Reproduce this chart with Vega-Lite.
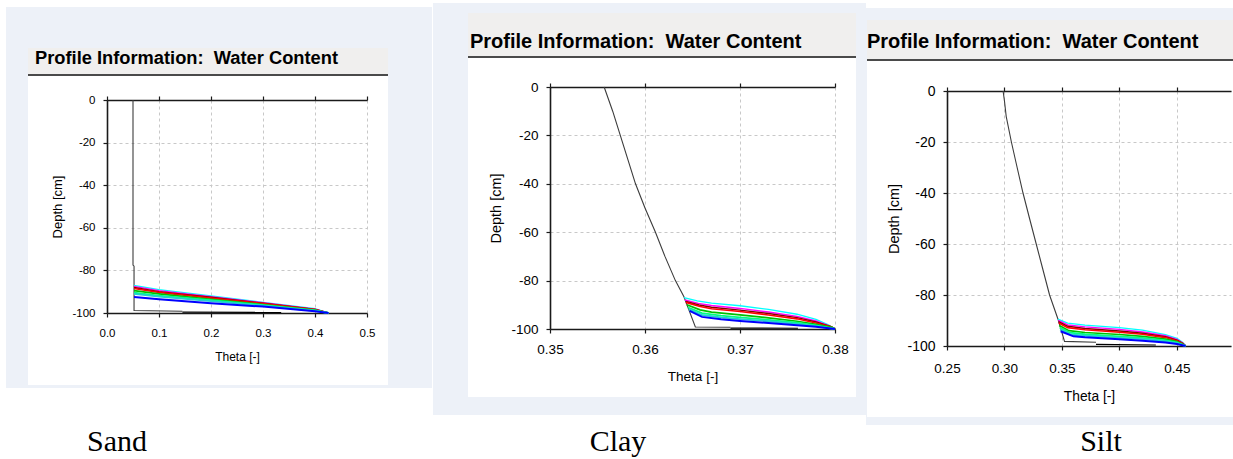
{
  "$schema": "https://vega.github.io/schema/vega-lite/v6.json",
  "background": "white",
  "padding": {"left": 6, "top": 3, "right": 0, "bottom": 0},
  "spacing": 0,
  "datasets": {
    "none": [],
    "sand": [
      {"series": "init", "theta": 0.05, "depth": 0},
      {"series": "init", "theta": 0.05, "depth": -77.5},
      {"series": "init", "theta": 0.052, "depth": -78},
      {"series": "init", "theta": 0.052, "depth": -98.8},
      {"series": "init", "theta": 0.145, "depth": -99.2},
      {"series": "t1", "theta": 0.145, "depth": -99.6},
      {"series": "t1", "theta": 0.335, "depth": -99.7},
      {"series": "c1", "theta": 0.052, "depth": -87},
      {"series": "c1", "theta": 0.1, "depth": -89},
      {"series": "c1", "theta": 0.2, "depth": -92},
      {"series": "c1", "theta": 0.3, "depth": -95},
      {"series": "c1", "theta": 0.4, "depth": -98},
      {"series": "c1", "theta": 0.426, "depth": -100},
      {"series": "c2", "theta": 0.052, "depth": -87.5},
      {"series": "c2", "theta": 0.1, "depth": -89.5},
      {"series": "c2", "theta": 0.2, "depth": -92.3},
      {"series": "c2", "theta": 0.3, "depth": -95.2},
      {"series": "c2", "theta": 0.4, "depth": -98.2},
      {"series": "c2", "theta": 0.426, "depth": -100},
      {"series": "c3", "theta": 0.052, "depth": -88},
      {"series": "c3", "theta": 0.1, "depth": -90},
      {"series": "c3", "theta": 0.2, "depth": -92.6},
      {"series": "c3", "theta": 0.3, "depth": -95.4},
      {"series": "c3", "theta": 0.4, "depth": -98.3},
      {"series": "c3", "theta": 0.426, "depth": -100},
      {"series": "c4", "theta": 0.052, "depth": -88.5},
      {"series": "c4", "theta": 0.1, "depth": -90.3},
      {"series": "c4", "theta": 0.2, "depth": -93},
      {"series": "c4", "theta": 0.3, "depth": -95.6},
      {"series": "c4", "theta": 0.4, "depth": -98.4},
      {"series": "c4", "theta": 0.426, "depth": -100},
      {"series": "c5", "theta": 0.052, "depth": -89.5},
      {"series": "c5", "theta": 0.1, "depth": -91},
      {"series": "c5", "theta": 0.2, "depth": -93.6},
      {"series": "c5", "theta": 0.3, "depth": -96},
      {"series": "c5", "theta": 0.4, "depth": -98.6},
      {"series": "c5", "theta": 0.426, "depth": -100},
      {"series": "c6", "theta": 0.052, "depth": -90.5},
      {"series": "c6", "theta": 0.1, "depth": -91.8},
      {"series": "c6", "theta": 0.2, "depth": -94},
      {"series": "c6", "theta": 0.3, "depth": -96.3},
      {"series": "c6", "theta": 0.4, "depth": -98.8},
      {"series": "c6", "theta": 0.426, "depth": -100},
      {"series": "c7", "theta": 0.052, "depth": -91},
      {"series": "c7", "theta": 0.1, "depth": -92.3},
      {"series": "c7", "theta": 0.2, "depth": -94.4},
      {"series": "c7", "theta": 0.3, "depth": -96.6},
      {"series": "c7", "theta": 0.4, "depth": -99},
      {"series": "c7", "theta": 0.426, "depth": -100},
      {"series": "c8", "theta": 0.052, "depth": -92.5},
      {"series": "c8", "theta": 0.1, "depth": -93.5},
      {"series": "c8", "theta": 0.2, "depth": -95.4},
      {"series": "c8", "theta": 0.3, "depth": -97},
      {"series": "c8", "theta": 0.4, "depth": -99.2},
      {"series": "c8", "theta": 0.426, "depth": -100}
    ],
    "clay": [
      {"series": "init", "theta": 0.3557, "depth": 0},
      {"series": "init", "theta": 0.3566, "depth": -10},
      {"series": "init", "theta": 0.3574, "depth": -20},
      {"series": "init", "theta": 0.3582, "depth": -30},
      {"series": "init", "theta": 0.359, "depth": -40},
      {"series": "init", "theta": 0.36, "depth": -50},
      {"series": "init", "theta": 0.3611, "depth": -60},
      {"series": "init", "theta": 0.3621, "depth": -70},
      {"series": "init", "theta": 0.3632, "depth": -80},
      {"series": "init", "theta": 0.3641, "depth": -86.7},
      {"series": "init", "theta": 0.3653, "depth": -99.2},
      {"series": "init", "theta": 0.369, "depth": -99.3},
      {"series": "t1", "theta": 0.369, "depth": -99.6},
      {"series": "t1", "theta": 0.3761, "depth": -99.7},
      {"series": "c1", "theta": 0.3641, "depth": -87},
      {"series": "c1", "theta": 0.3655, "depth": -88.4},
      {"series": "c1", "theta": 0.367, "depth": -89.3},
      {"series": "c1", "theta": 0.37, "depth": -90.4},
      {"series": "c1", "theta": 0.373, "depth": -91.9},
      {"series": "c1", "theta": 0.376, "depth": -93.9},
      {"series": "c1", "theta": 0.378, "depth": -96},
      {"series": "c1", "theta": 0.3793, "depth": -98.3},
      {"series": "c1", "theta": 0.38, "depth": -100},
      {"series": "c2", "theta": 0.3642, "depth": -88},
      {"series": "c2", "theta": 0.3656, "depth": -89.4},
      {"series": "c2", "theta": 0.367, "depth": -90.3},
      {"series": "c2", "theta": 0.37, "depth": -91.5},
      {"series": "c2", "theta": 0.373, "depth": -93},
      {"series": "c2", "theta": 0.376, "depth": -94.8},
      {"series": "c2", "theta": 0.378, "depth": -96.7},
      {"series": "c2", "theta": 0.3794, "depth": -98.7},
      {"series": "c2", "theta": 0.38, "depth": -100},
      {"series": "c3", "theta": 0.3643, "depth": -88.6},
      {"series": "c3", "theta": 0.3657, "depth": -90.1},
      {"series": "c3", "theta": 0.367, "depth": -91},
      {"series": "c3", "theta": 0.37, "depth": -92.2},
      {"series": "c3", "theta": 0.373, "depth": -93.6},
      {"series": "c3", "theta": 0.376, "depth": -95.3},
      {"series": "c3", "theta": 0.378, "depth": -97.1},
      {"series": "c3", "theta": 0.3795, "depth": -98.9},
      {"series": "c3", "theta": 0.38, "depth": -100},
      {"series": "c4", "theta": 0.3643, "depth": -89},
      {"series": "c4", "theta": 0.3658, "depth": -90.7},
      {"series": "c4", "theta": 0.367, "depth": -91.6},
      {"series": "c4", "theta": 0.37, "depth": -92.8},
      {"series": "c4", "theta": 0.373, "depth": -94.2},
      {"series": "c4", "theta": 0.376, "depth": -95.8},
      {"series": "c4", "theta": 0.378, "depth": -97.5},
      {"series": "c4", "theta": 0.3796, "depth": -99.1},
      {"series": "c4", "theta": 0.38, "depth": -100},
      {"series": "c5", "theta": 0.3644, "depth": -90},
      {"series": "c5", "theta": 0.3658, "depth": -92.1},
      {"series": "c5", "theta": 0.367, "depth": -93},
      {"series": "c5", "theta": 0.37, "depth": -94.2},
      {"series": "c5", "theta": 0.373, "depth": -95.4},
      {"series": "c5", "theta": 0.376, "depth": -96.8},
      {"series": "c5", "theta": 0.378, "depth": -98.1},
      {"series": "c5", "theta": 0.3797, "depth": -99.3},
      {"series": "c5", "theta": 0.38, "depth": -100},
      {"series": "c6", "theta": 0.3645, "depth": -91},
      {"series": "c6", "theta": 0.366, "depth": -93.4},
      {"series": "c6", "theta": 0.368, "depth": -94.5},
      {"series": "c6", "theta": 0.37, "depth": -95.2},
      {"series": "c6", "theta": 0.373, "depth": -96.2},
      {"series": "c6", "theta": 0.376, "depth": -97.4},
      {"series": "c6", "theta": 0.378, "depth": -98.5},
      {"series": "c6", "theta": 0.38, "depth": -100},
      {"series": "c7", "theta": 0.3646, "depth": -91.8},
      {"series": "c7", "theta": 0.366, "depth": -94.2},
      {"series": "c7", "theta": 0.368, "depth": -95.2},
      {"series": "c7", "theta": 0.37, "depth": -95.9},
      {"series": "c7", "theta": 0.373, "depth": -96.8},
      {"series": "c7", "theta": 0.376, "depth": -97.9},
      {"series": "c7", "theta": 0.378, "depth": -98.8},
      {"series": "c7", "theta": 0.38, "depth": -100},
      {"series": "c8", "theta": 0.3647, "depth": -92.5},
      {"series": "c8", "theta": 0.366, "depth": -95},
      {"series": "c8", "theta": 0.368, "depth": -96},
      {"series": "c8", "theta": 0.37, "depth": -96.7},
      {"series": "c8", "theta": 0.373, "depth": -97.5},
      {"series": "c8", "theta": 0.376, "depth": -98.4},
      {"series": "c8", "theta": 0.378, "depth": -99.1},
      {"series": "c8", "theta": 0.38, "depth": -100}
    ],
    "silt": [
      {"series": "init", "theta": 0.2988, "depth": 0},
      {"series": "init", "theta": 0.3, "depth": -4},
      {"series": "init", "theta": 0.3015, "depth": -10},
      {"series": "init", "theta": 0.306, "depth": -20},
      {"series": "init", "theta": 0.311, "depth": -30},
      {"series": "init", "theta": 0.3161, "depth": -40},
      {"series": "init", "theta": 0.3218, "depth": -50},
      {"series": "init", "theta": 0.3276, "depth": -60},
      {"series": "init", "theta": 0.3334, "depth": -70},
      {"series": "init", "theta": 0.3392, "depth": -80},
      {"series": "init", "theta": 0.3464, "depth": -89.3},
      {"series": "init", "theta": 0.3522, "depth": -98.2},
      {"series": "init", "theta": 0.3796, "depth": -98.5},
      {"series": "t1", "theta": 0.3796, "depth": -99.4},
      {"series": "t1", "theta": 0.4316, "depth": -99.6},
      {"series": "c1", "theta": 0.3464, "depth": -89.5},
      {"series": "c1", "theta": 0.355, "depth": -91},
      {"series": "c1", "theta": 0.37, "depth": -91.8},
      {"series": "c1", "theta": 0.4, "depth": -92.8},
      {"series": "c1", "theta": 0.42, "depth": -93.8},
      {"series": "c1", "theta": 0.44, "depth": -95.5},
      {"series": "c1", "theta": 0.45, "depth": -97},
      {"series": "c1", "theta": 0.455, "depth": -98.6},
      {"series": "c1", "theta": 0.4575, "depth": -100},
      {"series": "c2", "theta": 0.3468, "depth": -90},
      {"series": "c2", "theta": 0.355, "depth": -91.7},
      {"series": "c2", "theta": 0.37, "depth": -92.5},
      {"series": "c2", "theta": 0.4, "depth": -93.5},
      {"series": "c2", "theta": 0.42, "depth": -94.5},
      {"series": "c2", "theta": 0.44, "depth": -96},
      {"series": "c2", "theta": 0.45, "depth": -97.4},
      {"series": "c2", "theta": 0.455, "depth": -98.8},
      {"series": "c2", "theta": 0.4575, "depth": -100},
      {"series": "c3", "theta": 0.347, "depth": -90.5},
      {"series": "c3", "theta": 0.355, "depth": -92.3},
      {"series": "c3", "theta": 0.37, "depth": -93.1},
      {"series": "c3", "theta": 0.4, "depth": -94.1},
      {"series": "c3", "theta": 0.42, "depth": -95},
      {"series": "c3", "theta": 0.44, "depth": -96.4},
      {"series": "c3", "theta": 0.45, "depth": -97.7},
      {"series": "c3", "theta": 0.455, "depth": -99},
      {"series": "c3", "theta": 0.4575, "depth": -100},
      {"series": "c4", "theta": 0.3472, "depth": -91},
      {"series": "c4", "theta": 0.355, "depth": -92.8},
      {"series": "c4", "theta": 0.37, "depth": -93.6},
      {"series": "c4", "theta": 0.4, "depth": -94.6},
      {"series": "c4", "theta": 0.42, "depth": -95.4},
      {"series": "c4", "theta": 0.44, "depth": -96.7},
      {"series": "c4", "theta": 0.45, "depth": -97.9},
      {"series": "c4", "theta": 0.455, "depth": -99.1},
      {"series": "c4", "theta": 0.4575, "depth": -100},
      {"series": "c5", "theta": 0.3476, "depth": -92},
      {"series": "c5", "theta": 0.356, "depth": -94},
      {"series": "c5", "theta": 0.37, "depth": -94.7},
      {"series": "c5", "theta": 0.4, "depth": -95.5},
      {"series": "c5", "theta": 0.42, "depth": -96.2},
      {"series": "c5", "theta": 0.44, "depth": -97.3},
      {"series": "c5", "theta": 0.45, "depth": -98.3},
      {"series": "c5", "theta": 0.455, "depth": -99.3},
      {"series": "c5", "theta": 0.4575, "depth": -100},
      {"series": "c6", "theta": 0.348, "depth": -92.8},
      {"series": "c6", "theta": 0.357, "depth": -94.8},
      {"series": "c6", "theta": 0.37, "depth": -95.4},
      {"series": "c6", "theta": 0.4, "depth": -96.2},
      {"series": "c6", "theta": 0.42, "depth": -96.8},
      {"series": "c6", "theta": 0.44, "depth": -97.8},
      {"series": "c6", "theta": 0.45, "depth": -98.6},
      {"series": "c6", "theta": 0.4575, "depth": -100},
      {"series": "c7", "theta": 0.3484, "depth": -93.5},
      {"series": "c7", "theta": 0.358, "depth": -95.5},
      {"series": "c7", "theta": 0.37, "depth": -96},
      {"series": "c7", "theta": 0.4, "depth": -96.8},
      {"series": "c7", "theta": 0.42, "depth": -97.3},
      {"series": "c7", "theta": 0.44, "depth": -98.2},
      {"series": "c7", "theta": 0.45, "depth": -98.9},
      {"series": "c7", "theta": 0.4575, "depth": -100},
      {"series": "c8", "theta": 0.3488, "depth": -94.2},
      {"series": "c8", "theta": 0.36, "depth": -96.2},
      {"series": "c8", "theta": 0.37, "depth": -96.6},
      {"series": "c8", "theta": 0.4, "depth": -97.4},
      {"series": "c8", "theta": 0.42, "depth": -97.9},
      {"series": "c8", "theta": 0.44, "depth": -98.6},
      {"series": "c8", "theta": 0.45, "depth": -99.2},
      {"series": "c8", "theta": 0.4575, "depth": -100}
    ]
  },
  "vconcat": [
    {
      "spacing": 0,
      "hconcat": [
        {
          "spacing": 0,
          "vconcat": [
            {"width": 1, "height": 4, "data": {"name": "none"}, "mark": "point"},
            {"width": 426, "height": 41, "data": {"name": "none"}, "mark": "point", "view": {"fill": "#edf1f8"}},
            {
              "spacing": 0,
              "hconcat": [
                {"width": 22, "height": 337, "data": {"name": "none"}, "mark": "point", "view": {"fill": "#edf1f8"}},
                {
                  "columns": 2, "spacing": 0, "bounds": "flush", "align": "each",
                  "concat": [
                    {"width": 79, "height": 26, "data": {"name": "none"}, "mark": "point", "view": {"fill": "#f0efee"}},
                    {"width": 281, "height": 26, "data": {"name": "none"}, "mark": "point", "view": {"fill": "#f0efee"}},
                    {"width": 79, "height": 2, "data": {"name": "none"}, "mark": "point", "view": {"fill": "#4a4a4a"}},
                    {"width": 281, "height": 2, "data": {"name": "none"}, "mark": "point", "view": {"fill": "#4a4a4a"}},
                    {"width": 1, "height": 24, "data": {"name": "none"}, "mark": "point"},
                    {"width": 1, "height": 24, "data": {"name": "none"}, "mark": "point"},
                    {"width": 1, "height": 1, "data": {"name": "none"}, "mark": "point"},
                    {
                      "width": 260, "height": 213,
                      "title": {"text": "Profile Information:\u00a0\u00a0Water Content", "frame": "group", "anchor": "start", "dx": -72, "offset": 26, "fontSize": 18.3, "fontWeight": "bold", "font": "Liberation Sans", "color": "#000000"},
                      "resolve": {"axis": {"x": "independent"}},
                      "layer": [
                        {
                          "data": {"name": "sand"},
                          "mark": {"type": "line"},
                          "encoding": {
                            "x": {"field": "theta", "type": "quantitative", "scale": {"domain": [0, 0.5], "nice": false, "zero": false},
                              "axis": {"values": [0, 0.1, 0.2, 0.3, 0.4, 0.5], "format": ".1f", "labelFontSize": 11.5, "labelPadding": 10, "title": "Theta [-]", "titleFontSize": 12, "titleY": 47, "titleBaseline": "alphabetic"}},
                            "y": {"field": "depth", "type": "quantitative", "scale": {"domain": [-100, 0], "nice": false, "zero": false},
                              "axis": {"values": [0, -20, -40, -60, -80, -100], "format": "d", "labelExpr": "replace(datum.label, '\u2212', '-')", "labelFontSize": 11.5, "labelPadding": 8, "title": "Depth [cm]", "titleFontSize": 13, "titleX": -49.5, "titleBaseline": "middle"}},
                            "color": {"field": "series", "type": "nominal", "legend": null,
                              "scale": {"domain": ["init", "t1", "c1", "c2", "c3", "c4", "c5", "c6", "c7", "c8"], "range": ["#3c3c3c", "#000000", "#00ffff", "#ff00ff", "#800000", "#ff0000", "#00c000", "#00ff80", "#20d0d0", "#0000ff"]}},
                            "strokeWidth": {"field": "series", "type": "nominal", "legend": null,
                              "scale": {"domain": ["init", "t1", "c1", "c2", "c3", "c4", "c5", "c6", "c7", "c8"], "range": [1.1, 2, 1.6, 1.6, 1.6, 1.6, 1.6, 1.6, 1.6, 1.6]}},
                            "order": {"field": "depth", "sort": "descending"}
                          }
                        },
                        {
                          "data": {"name": "none"},
                          "mark": "point",
                          "encoding": {
                            "x": {"field": "theta", "type": "quantitative", "scale": {"domain": [0, 0.5], "nice": false, "zero": false},
                              "axis": {"orient": "top", "values": [0, 0.1, 0.2, 0.3, 0.4, 0.5], "labels": false, "grid": false, "title": null}}
                          }
                        }
                      ]
                    }
                  ]
                },
                {"width": 44, "height": 337, "data": {"name": "none"}, "mark": "point", "view": {"fill": "#edf1f8"}}
              ]
            },
            {"width": 426, "height": 3, "data": {"name": "none"}, "mark": "point", "view": {"fill": "#edf1f8"}}
          ]
        },
        {"width": 1, "height": 1, "data": {"name": "none"}, "mark": "point"},
        {
          "spacing": 0,
          "vconcat": [
            {"width": 433, "height": 10, "data": {"name": "none"}, "mark": "point", "view": {"fill": "#edf1f8"}},
            {
              "spacing": 0,
              "hconcat": [
                {"width": 35, "height": 384, "data": {"name": "none"}, "mark": "point", "view": {"fill": "#edf1f8"}},
                {
                  "columns": 2, "spacing": 0, "bounds": "flush", "align": "each",
                  "concat": [
                    {"width": 82, "height": 43, "data": {"name": "none"}, "mark": "point", "view": {"fill": "#f0efee"}},
                    {"width": 306, "height": 43, "data": {"name": "none"}, "mark": "point", "view": {"fill": "#f0efee"}},
                    {"width": 82, "height": 2, "data": {"name": "none"}, "mark": "point", "view": {"fill": "#4a4a4a"}},
                    {"width": 306, "height": 2, "data": {"name": "none"}, "mark": "point", "view": {"fill": "#4a4a4a"}},
                    {"width": 1, "height": 29, "data": {"name": "none"}, "mark": "point"},
                    {"width": 1, "height": 29, "data": {"name": "none"}, "mark": "point"},
                    {"width": 1, "height": 1, "data": {"name": "none"}, "mark": "point"},
                    {
                      "width": 285, "height": 242,
                      "title": {"text": "Profile Information:\u00a0\u00a0Water Content", "frame": "group", "anchor": "start", "dx": -80, "offset": 28, "fontSize": 20, "fontWeight": "bold", "font": "Liberation Sans", "color": "#000000"},
                      "resolve": {"axis": {"x": "independent"}},
                      "layer": [
                        {
                          "data": {"name": "clay"},
                          "mark": {"type": "line"},
                          "encoding": {
                            "x": {"field": "theta", "type": "quantitative", "scale": {"domain": [0.35, 0.38], "nice": false, "zero": false},
                              "axis": {"values": [0.35, 0.36, 0.37, 0.38], "format": ".2f", "labelFontSize": 13.5, "labelPadding": 9, "title": "Theta [-]", "titleFontSize": 13.5, "titleY": 51.5, "titleBaseline": "alphabetic"}},
                            "y": {"field": "depth", "type": "quantitative", "scale": {"domain": [-100, 0], "nice": false, "zero": false},
                              "axis": {"values": [0, -20, -40, -60, -80, -100], "format": "d", "labelExpr": "replace(datum.label, '\u2212', '-')", "labelFontSize": 13.5, "labelPadding": 8, "title": "Depth [cm]", "titleFontSize": 14.5, "titleX": -53.3, "titleBaseline": "middle"}},
                            "color": {"field": "series", "type": "nominal", "legend": null,
                              "scale": {"domain": ["init", "t1", "c1", "c2", "c3", "c4", "c5", "c6", "c7", "c8"], "range": ["#3c3c3c", "#000000", "#00ffff", "#ff00ff", "#800000", "#ff0000", "#00c000", "#00ff80", "#20d0d0", "#0000ff"]}},
                            "strokeWidth": {"field": "series", "type": "nominal", "legend": null,
                              "scale": {"domain": ["init", "t1", "c1", "c2", "c3", "c4", "c5", "c6", "c7", "c8"], "range": [1.1, 2, 1.6, 1.6, 1.6, 1.6, 1.6, 1.6, 1.6, 1.6]}},
                            "order": {"field": "depth", "sort": "descending"}
                          }
                        },
                        {
                          "data": {"name": "none"},
                          "mark": "point",
                          "encoding": {
                            "x": {"field": "theta", "type": "quantitative", "scale": {"domain": [0.35, 0.38], "nice": false, "zero": false},
                              "axis": {"orient": "top", "values": [0.35, 0.36, 0.37, 0.38], "labels": false, "grid": false, "title": null}}
                          }
                        }
                      ]
                    }
                  ]
                },
                {"width": 10, "height": 384, "data": {"name": "none"}, "mark": "point", "view": {"fill": "#edf1f8"}}
              ]
            },
            {"width": 433, "height": 18, "data": {"name": "none"}, "mark": "point", "view": {"fill": "#edf1f8"}}
          ]
        },
        {
          "spacing": 0,
          "vconcat": [
            {"width": 1, "height": 5, "data": {"name": "none"}, "mark": "point"},
            {"width": 367, "height": 12, "data": {"name": "none"}, "mark": "point", "view": {"fill": "#edf1f8"}},
            {
              "spacing": 0,
              "hconcat": [
                {"width": 1, "height": 397, "data": {"name": "none"}, "mark": "point", "view": {"fill": "#edf1f8"}},
                {
                  "columns": 2, "spacing": 0, "bounds": "flush", "align": "each",
                  "concat": [
                    {"width": 80, "height": 39, "data": {"name": "none"}, "mark": "point", "view": {"fill": "#f0efee"}},
                    {"width": 286, "height": 39, "data": {"name": "none"}, "mark": "point", "view": {"fill": "#f0efee"}},
                    {"width": 80, "height": 2, "data": {"name": "none"}, "mark": "point", "view": {"fill": "#4a4a4a"}},
                    {"width": 286, "height": 2, "data": {"name": "none"}, "mark": "point", "view": {"fill": "#4a4a4a"}},
                    {"width": 1, "height": 30, "data": {"name": "none"}, "mark": "point"},
                    {"width": 1, "height": 30, "data": {"name": "none"}, "mark": "point"},
                    {"width": 1, "height": 1, "data": {"name": "none"}, "mark": "point"},
                    {
                      "width": 284, "height": 255,
                      "title": {"text": "Profile Information:\u00a0\u00a0Water Content", "frame": "group", "anchor": "start", "dx": -80, "offset": 31.7, "fontSize": 20, "fontWeight": "bold", "font": "Liberation Sans", "color": "#000000"},
                      "resolve": {"axis": {"x": "independent"}},
                      "layer": [
                        {
                          "data": {"name": "silt"},
                          "mark": {"type": "line"},
                          "encoding": {
                            "x": {"field": "theta", "type": "quantitative", "scale": {"domain": [0.25, 0.497], "nice": false, "zero": false},
                              "axis": {"values": [0.25, 0.3, 0.35, 0.4, 0.45], "format": ".2f", "labelFontSize": 13.5, "labelPadding": 11, "title": "Theta [-]", "titleFontSize": 13.8, "titleY": 54, "titleBaseline": "alphabetic"}},
                            "y": {"field": "depth", "type": "quantitative", "scale": {"domain": [-100, 0], "nice": false, "zero": false},
                              "axis": {"values": [0, -20, -40, -60, -80, -100], "format": "d", "labelExpr": "replace(datum.label, '\u2212', '-')", "labelFontSize": 14, "labelPadding": 8, "title": "Depth [cm]", "titleFontSize": 14.5, "titleX": -53, "titleBaseline": "middle"}},
                            "color": {"field": "series", "type": "nominal", "legend": null,
                              "scale": {"domain": ["init", "t1", "c1", "c2", "c3", "c4", "c5", "c6", "c7", "c8"], "range": ["#3c3c3c", "#000000", "#00ffff", "#ff00ff", "#800000", "#ff0000", "#00c000", "#00ff80", "#20d0d0", "#0000ff"]}},
                            "strokeWidth": {"field": "series", "type": "nominal", "legend": null,
                              "scale": {"domain": ["init", "t1", "c1", "c2", "c3", "c4", "c5", "c6", "c7", "c8"], "range": [1.1, 2, 1.6, 1.6, 1.6, 1.6, 1.6, 1.6, 1.6, 1.6]}},
                            "order": {"field": "depth", "sort": "descending"}
                          }
                        },
                        {
                          "data": {"name": "none"},
                          "mark": "point",
                          "encoding": {
                            "x": {"field": "theta", "type": "quantitative", "scale": {"domain": [0.25, 0.497], "nice": false, "zero": false},
                              "axis": {"orient": "top", "values": [0.25, 0.3, 0.35, 0.4, 0.45], "labels": false, "grid": false, "title": null}}
                          }
                        }
                      ]
                    }
                  ]
                }
              ]
            },
            {"width": 367, "height": 8, "data": {"name": "none"}, "mark": "point", "view": {"fill": "#edf1f8"}}
          ]
        }
      ]
    },
    {
      "spacing": 0,
      "hconcat": [
        {"width": 222, "height": 34, "data": {"values": [{"caption": "Sand"}]}, "mark": {"type": "text", "font": "Liberation Serif", "fontSize": 30, "color": "#000000"}, "encoding": {"text": {"field": "caption"}}},
        {"width": 780, "height": 34, "data": {"values": [{"caption": "Clay"}]}, "mark": {"type": "text", "font": "Liberation Serif", "fontSize": 30, "color": "#000000"}, "encoding": {"text": {"field": "caption"}}},
        {"width": 186, "height": 34, "data": {"values": [{"caption": "Silt"}]}, "mark": {"type": "text", "font": "Liberation Serif", "fontSize": 30, "color": "#000000"}, "encoding": {"text": {"field": "caption"}}}
      ]
    }
  ],
  "config": {
    "view": {"stroke": null},
    "axis": {
      "domainColor": "#1a1a1a", "domainWidth": 1.6, "tickColor": "#1a1a1a", "tickSize": 4, "tickWidth": 1.2,
      "labelColor": "#000000", "labelFont": "Liberation Sans", "labelOverlap": false, "labelFlush": false,
      "titleFont": "Liberation Sans", "titleFontWeight": "normal", "titleColor": "#000000",
      "gridColor": "#c8c8c8", "gridDash": [3, 3], "gridWidth": 1
    }
  }
}
